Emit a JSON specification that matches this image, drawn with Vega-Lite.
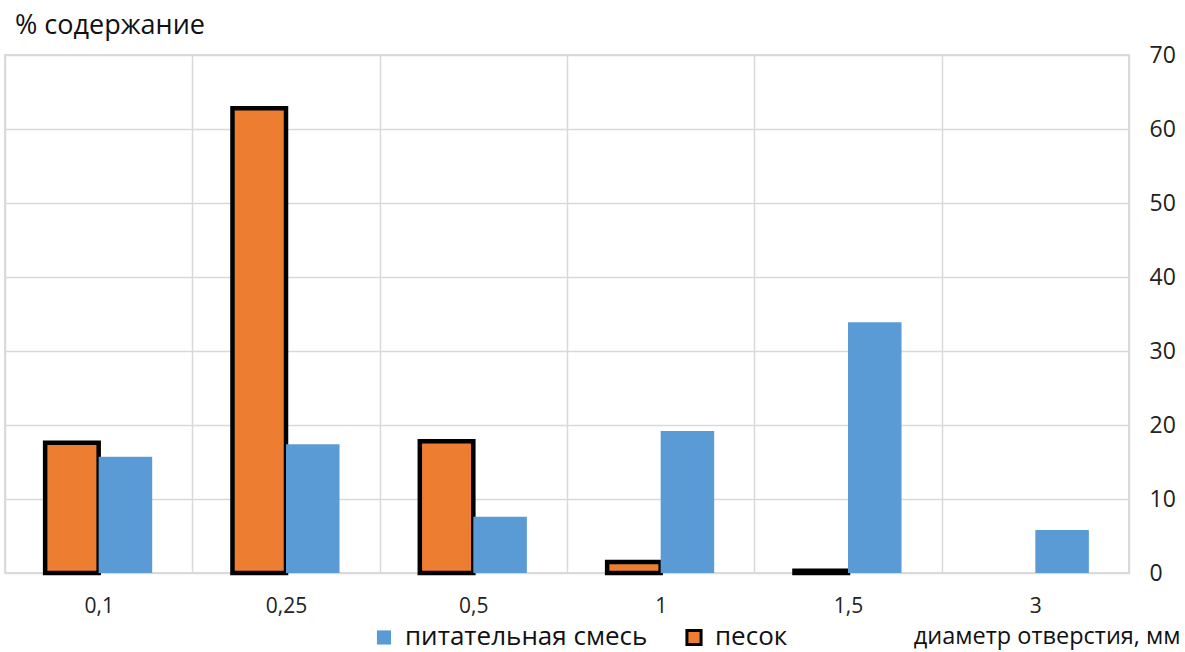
{
  "$schema": "https://vega.github.io/schema/vega-lite/v6.json",
  "autosize": {"type": "none"},
  "width": 1124,
  "height": 518,
  "padding": {"left": 5, "top": 55, "right": 56, "bottom": 79},
  "background": "white",
  "config": {
    "font": "Open Sans",
    "view": {"stroke": "#d0d0d0", "strokeWidth": 1.5}
  },
  "title": {
    "text": "% содержание",
    "anchor": "start",
    "dx": 10,
    "offset": 4,
    "fontSize": 27,
    "fontWeight": "normal",
    "color": "#111111",
    "font": "Open Sans"
  },
  "data": {
    "values": [
      {"d": "0,1", "series": "песок", "v": 17.6},
      {"d": "0,1", "series": "питательная смесь", "v": 15.7},
      {"d": "0,25", "series": "песок", "v": 62.8},
      {"d": "0,25", "series": "питательная смесь", "v": 17.4},
      {"d": "0,5", "series": "песок", "v": 17.8},
      {"d": "0,5", "series": "питательная смесь", "v": 7.6},
      {"d": "1", "series": "песок", "v": 1.5},
      {"d": "1", "series": "питательная смесь", "v": 19.2},
      {"d": "1,5", "series": "песок", "v": 0.3},
      {"d": "1,5", "series": "питательная смесь", "v": 33.9},
      {"d": "3", "series": "питательная смесь", "v": 5.8}
    ]
  },
  "mark": {"type": "bar", "strokeWidth": 4.5, "strokeJoin": "miter"},
  "encoding": {
    "x": {
      "field": "d",
      "type": "nominal",
      "sort": ["0,1", "0,25", "0,5", "1", "1,5", "3"],
      "scale": {"paddingInner": 0, "paddingOuter": 0},
      "axis": {
        "title": "диаметр отверстия, мм",
        "titleFontSize": 23.5,
        "titleFontWeight": "normal",
        "titleColor": "#111111",
        "titleAlign": "right",
        "titleAnchor": "end",
        "titleX": 1175,
        "titleY": 63,
        "titleBaseline": "middle",
        "labelAngle": 0,
        "labelFontSize": 21,
        "labelColor": "#222222",
        "labelPadding": 22,
        "ticks": false,
        "domain": false,
        "grid": true,
        "tickBand": "extent",
        "gridColor": "#d9d9d9",
        "gridWidth": 1.5
      }
    },
    "xOffset": {
      "field": "series",
      "type": "nominal",
      "sort": ["песок", "питательная смесь"],
      "scale": {"paddingInner": 0, "paddingOuter": 0.75}
    },
    "y": {
      "field": "v",
      "type": "quantitative",
      "scale": {"domain": [0, 70]},
      "axis": {
        "orient": "right",
        "title": null,
        "values": [0, 10, 20, 30, 40, 50, 60, 70],
        "labelFontSize": 23,
        "labelColor": "#222222",
        "labelPadding": 20,
        "ticks": false,
        "domain": false,
        "grid": true,
        "gridColor": "#d9d9d9",
        "gridWidth": 1.5
      }
    },
    "color": {
      "field": "series",
      "type": "nominal",
      "scale": {"domain": ["питательная смесь", "песок"], "range": ["#5b9bd5", "#ed7d31"]},
      "legend": {
        "title": null,
        "orient": "none",
        "direction": "horizontal",
        "legendX": 366,
        "legendY": 569,
        "symbolType": "square",
        "symbolSize": 200,
        "symbolStrokeWidth": 3,
        "labelFontSize": 26,
        "labelLimit": 0,
        "labelColor": "#111111",
        "columnPadding": 32,
        "labelOffset": 8
      }
    },
    "stroke": {
      "field": "series",
      "type": "nominal",
      "scale": {"domain": ["питательная смесь", "песок"], "range": ["rgba(0,0,0,0)", "#000000"]},
      "legend": {
        "title": null,
        "orient": "none",
        "direction": "horizontal",
        "legendX": 366,
        "legendY": 569,
        "symbolType": "square",
        "symbolSize": 200,
        "symbolStrokeWidth": 3,
        "labelFontSize": 26,
        "labelLimit": 0,
        "labelColor": "#111111",
        "columnPadding": 32,
        "labelOffset": 8
      }
    }
  }
}
